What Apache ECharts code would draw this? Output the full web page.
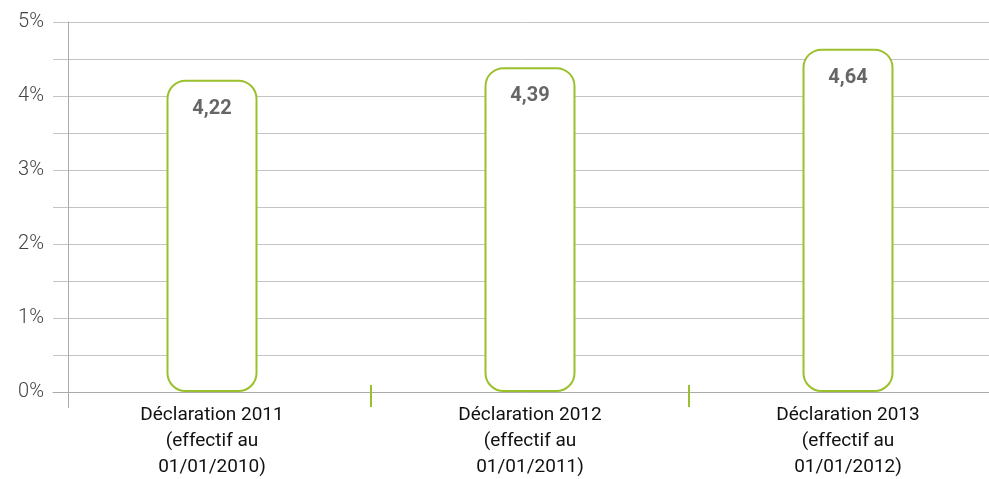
<!DOCTYPE html>
<html>
<head>
<meta charset="utf-8">
<script src="https://cdn.jsdelivr.net/npm/echarts@6/dist/echarts.min.js"></script>
<style>
  html, body { margin: 0; padding: 0; background: #fff; }
  #chart { width: 989px; height: 479px; }
</style>
</head>
<body>
<div id="chart"></div>
<script>
var chart = echarts.init(document.getElementById('chart'));

const categories = [
  'Déclaration 2011\n(effectif au\n01/01/2010)',
  'Déclaration 2012\n(effectif au\n01/01/2011)',
  'Déclaration 2013\n(effectif au\n01/01/2012)'
];
const rates = [4.22, 4.39, 4.64];
const yTicks = [0, 0.5, 1, 1.5, 2, 2.5, 3, 3.5, 4, 4.5, 5];

const green = '#9bc02b';

function innerTicks(i) { return i > 0 && i < categories.length; }

var option = {
  animation: false,
  grid: { left: 53, width: 954, top: 22, bottom: 87, outerBoundsMode: 'none', containLabel: false },
  xAxis: [
    {
      type: 'category',
      data: categories,
      axisLine: { lineStyle: { color: '#aaaaaa', width: 1 } },
      axisTick: { show: true, length: 15, interval: innerTicks, lineStyle: { color: green, width: 2 } },
      axisLabel: {
        margin: 10,
        color: '#111',
        fontFamily: 'Liberation Sans Narrow, Roboto, sans-serif',
        fontSize: 19,
        lineHeight: 26
      }
    },
    {
      type: 'category',
      data: categories,
      position: 'bottom',
      axisLine: { show: false },
      axisTick: { show: true, inside: true, length: 7, interval: innerTicks, lineStyle: { color: green, width: 2 } },
      axisLabel: { show: false }
    }
  ],
  yAxis: {
    type: 'value',
    min: yTicks[0],
    max: yTicks[yTicks.length - 1],
    interval: 0.5,
    offset: -15,
    axisLine: { show: true, lineStyle: { color: '#aaaaaa', width: 1 } },
    axisTick: { show: false },
    splitLine: { lineStyle: { color: '#c4c4c4', width: 1 } },
    axisLabel: {
      margin: 24,
      color: '#444',
      fontFamily: 'Roboto, sans-serif',
      fontWeight: 300,
      fontSize: 20,
      formatter: function (v) {
        return Number.isInteger(v) ? v + '%' : '';
      }
    }
  },
  series: [
    {
      type: 'bar',
      data: rates,
      barWidth: 91,
      itemStyle: {
        color: '#ffffff',
        borderColor: green,
        borderWidth: 2,
        borderRadius: 18
      },
      label: {
        show: true,
        position: 'insideTop',
        distance: 19,
        color: '#666666',
        fontFamily: 'Liberation Sans Narrow, Roboto, sans-serif',
        fontWeight: 'bold',
        fontSize: 20,
        formatter: function (p) {
          return p.value.toFixed(2).replace('.', ',');
        }
      }
    }
  ]
};

chart.setOption(option);

// y axis line runs a little below the zero line
var zeroY = chart.convertToPixel({ yAxisIndex: 0 }, 0);
chart.setOption({
  graphic: [{
    type: 'line',
    shape: { x1: 68.5, y1: zeroY, x2: 68.5, y2: zeroY + 16 },
    style: { stroke: '#aaaaaa', lineWidth: 1 }
  }]
});
</script>
</body>
</html>
